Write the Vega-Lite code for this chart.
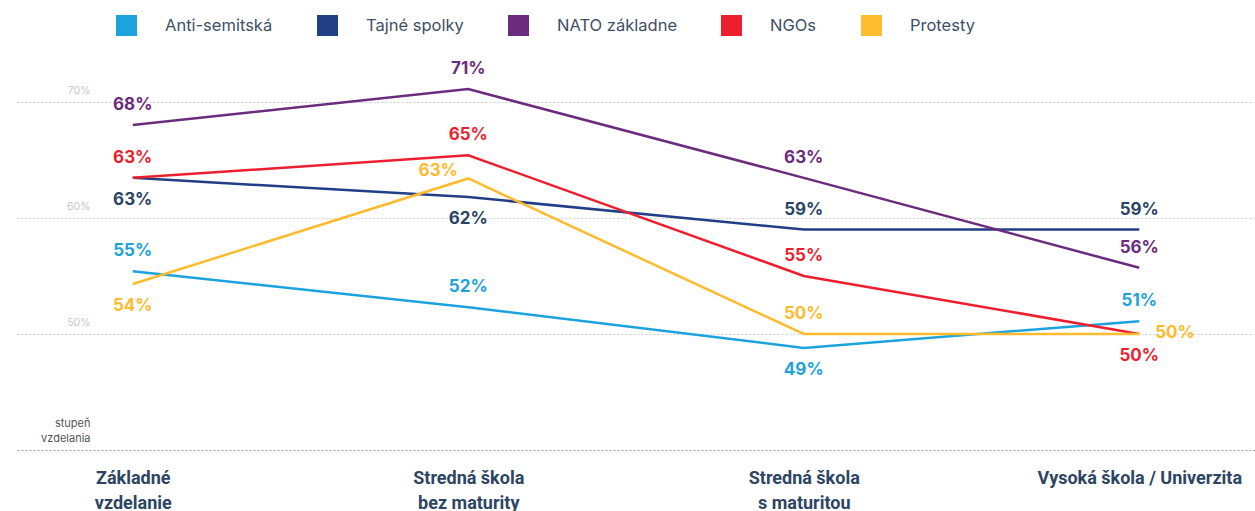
{
  "$schema": "https://vega.github.io/schema/vega-lite/v6.json",
  "width": 1238,
  "height": 405,
  "autosize": {"type": "none"},
  "padding": {"left": 17, "top": 45, "right": 0, "bottom": 61},
  "background": "white",
  "config": {"view": {"stroke": null}, "font": "Inter"},
  "data": {
    "values": [
      {"level": "Základné vzdelanie", "series": "Anti-semitská", "value": 0.554},
      {"level": "Stredná škola bez maturity", "series": "Anti-semitská", "value": 0.523},
      {"level": "Stredná škola s maturitou", "series": "Anti-semitská", "value": 0.488},
      {"level": "Vysoká škola / Univerzita", "series": "Anti-semitská", "value": 0.511},
      {"level": "Základné vzdelanie", "series": "Tajné spolky", "value": 0.6345},
      {"level": "Stredná škola bez maturity", "series": "Tajné spolky", "value": 0.618},
      {"level": "Stredná škola s maturitou", "series": "Tajné spolky", "value": 0.59},
      {"level": "Vysoká škola / Univerzita", "series": "Tajné spolky", "value": 0.59},
      {"level": "Základné vzdelanie", "series": "NATO základne", "value": 0.68},
      {"level": "Stredná škola bez maturity", "series": "NATO základne", "value": 0.711},
      {"level": "Stredná škola s maturitou", "series": "NATO základne", "value": 0.6345},
      {"level": "Vysoká škola / Univerzita", "series": "NATO základne", "value": 0.557},
      {"level": "Základné vzdelanie", "series": "NGOs", "value": 0.6345},
      {"level": "Stredná škola bez maturity", "series": "NGOs", "value": 0.654},
      {"level": "Stredná škola s maturitou", "series": "NGOs", "value": 0.55},
      {"level": "Vysoká škola / Univerzita", "series": "NGOs", "value": 0.5},
      {"level": "Základné vzdelanie", "series": "Protesty", "value": 0.543},
      {"level": "Stredná škola bez maturity", "series": "Protesty", "value": 0.634},
      {"level": "Stredná škola s maturitou", "series": "Protesty", "value": 0.5},
      {"level": "Vysoká škola / Univerzita", "series": "Protesty", "value": 0.5}
    ]
  },
  "encoding": {
    "x": {
      "field": "level",
      "type": "ordinal",
      "sort": ["Základné vzdelanie", "Stredná škola bez maturity", "Stredná škola s maturitou", "Vysoká škola / Univerzita"],
      "scale": {"type": "point", "padding": 0.345},
      "axis": {
        "title": ["stupeň", "vzdelania"],
        "titleFont": "Inter",
        "titleFontSize": 11,
        "titleFontWeight": "normal",
        "titleColor": "#555555",
        "titleAlign": "right",
        "titleAnchor": null,
        "titleX": 73,
        "titleY": -22,
        "titleBaseline": "bottom",
        "titleLineHeight": 15,
        "labelAngle": 0,
        "labelFont": "Roboto",
        "labelFontWeight": "bold",
        "labelFontSize": 18,
        "labelColor": "#2c4562",
        "labelPadding": 19,
        "labelLineHeight": 25,
        "labelLimit": 400,
        "labelExpr": "datum.value == 'Základné vzdelanie' ? ['Základné', 'vzdelanie'] : datum.value == 'Stredná škola bez maturity' ? ['Stredná škola', 'bez maturity'] : datum.value == 'Stredná škola s maturitou' ? ['Stredná škola', 's maturitou'] : datum.value",
        "ticks": false,
        "grid": false,
        "domainColor": "#999999",
        "domainDash": [2, 2],
        "domainWidth": 1
      }
    },
    "y": {
      "field": "value",
      "type": "quantitative",
      "scale": {"domain": [0.4, 0.749], "nice": false, "zero": false},
      "axis": {
        "title": null,
        "values": [0.5, 0.6, 0.7],
        "format": ".0%",
        "grid": true,
        "gridColor": "#cfcfcf",
        "gridDash": [2, 2],
        "gridWidth": 1,
        "domain": false,
        "ticks": false,
        "labelFont": "Inter",
        "labelFontSize": 10.5,
        "labelColor": "#c6c6c6",
        "labelAlign": "right",
        "labelBaseline": "alphabetic",
        "labelPadding": -73,
        "labelOffset": -8
      }
    }
  },
  "layer": [
    {
      "mark": {"type": "line", "strokeWidth": 2.5},
      "encoding": {
        "color": {
          "field": "series",
          "type": "nominal",
          "scale": {
            "domain": ["Anti-semitská", "Tajné spolky", "NATO základne", "NGOs", "Protesty"],
            "range": ["#1ca3dd", "#213f87", "#6b2c7e", "#ed1f2f", "#fdbb2d"]
          },
          "legend": {
            "orient": "none",
            "legendX": 99,
            "legendY": -30,
            "direction": "horizontal",
            "columns": 5,
            "title": null,
            "symbolType": "square",
            "symbolSize": 441,
            "symbolStrokeWidth": 0,
            "symbolOpacity": 1,
            "labelFont": "Inter",
            "labelFontSize": 16.5,
            "labelColor": "#3e4f66",
            "labelOffset": 28,
            "columnPadding": 44,
            "encode": {
              "symbols": {"update": {"fill": {"scale": "color", "field": "value"}, "strokeWidth": {"value": 0}}}
            }
          }
        }
      }
    },
    {
      "transform": [
        {"filter": "!((datum.series=='Tajné spolky' && (datum.level=='Základné vzdelanie' || datum.level=='Stredná škola bez maturity')) || (datum.series=='Anti-semitská' && datum.level=='Stredná škola s maturitou') || (datum.series=='NGOs' && datum.level=='Vysoká škola / Univerzita') || (datum.series=='Protesty' && (datum.level=='Základné vzdelanie' || datum.level=='Vysoká škola / Univerzita' || datum.level=='Stredná škola bez maturity')))"}
      ],
      "mark": {"type": "text", "font": "Inter", "fontWeight": "bold", "fontSize": 17, "baseline": "middle", "dy": -20},
      "encoding": {
        "text": {"field": "value", "type": "quantitative", "format": ".0%"},
        "color": {
          "condition": {"test": "datum.series == 'Tajné spolky'", "value": "#2a4463"},
          "field": "series",
          "type": "nominal",
          "legend": null
        }
      }
    },
    {
      "transform": [
        {"filter": "(datum.series=='Tajné spolky' && (datum.level=='Základné vzdelanie' || datum.level=='Stredná škola bez maturity')) || (datum.series=='Anti-semitská' && datum.level=='Stredná škola s maturitou') || (datum.series=='NGOs' && datum.level=='Vysoká škola / Univerzita') || (datum.series=='Protesty' && datum.level=='Základné vzdelanie')"}
      ],
      "mark": {"type": "text", "font": "Inter", "fontWeight": "bold", "fontSize": 17, "baseline": "middle", "dy": 22},
      "encoding": {
        "text": {"field": "value", "type": "quantitative", "format": ".0%"},
        "color": {
          "condition": {"test": "datum.series == 'Tajné spolky'", "value": "#2a4463"},
          "field": "series",
          "type": "nominal",
          "legend": null
        }
      }
    },
    {
      "transform": [
        {"filter": "datum.series=='Protesty' && datum.level=='Vysoká škola / Univerzita'"}
      ],
      "mark": {"type": "text", "font": "Inter", "fontWeight": "bold", "fontSize": 17, "baseline": "middle", "align": "left", "dx": 16, "dy": -1},
      "encoding": {
        "text": {"field": "value", "type": "quantitative", "format": ".0%"},
        "color": {"field": "series", "type": "nominal", "legend": null}
      }
    },
    {
      "transform": [
        {"filter": "datum.series=='Protesty' && datum.level=='Stredná škola bez maturity'"}
      ],
      "mark": {"type": "text", "font": "Inter", "fontWeight": "bold", "fontSize": 17, "baseline": "middle", "dx": -30, "dy": -7},
      "encoding": {
        "text": {"field": "value", "type": "quantitative", "format": ".0%"},
        "color": {"field": "series", "type": "nominal", "legend": null}
      }
    }
  ]
}
